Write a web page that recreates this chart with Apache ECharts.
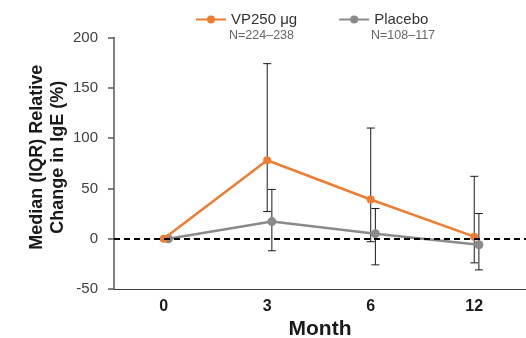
<!DOCTYPE html>
<html>
<head>
<meta charset="utf-8">
<script src="https://cdn.jsdelivr.net/npm/echarts@6/dist/echarts.min.js"></script>
<style>
  html, body { margin: 0; padding: 0; background: #fff; }
  #chart { width: 526px; height: 338px; }
</style>
</head>
<body>
<div id="chart"></div>
<script>
// months shown on the x axis
var months = ['0', '3', '6', '12'];
var yTicks = [-50, 0, 50, 100, 150, 200];

// VP250 ug: median and IQR (%)
var vpMedian = [0, 78, 39, 2];
var vpQ1 = [0, 27, -3, -24];
var vpQ3 = [0, 174, 110, 62];

// Placebo: median and IQR (%)
var plMedian = [0, 17, 5, -6];
var plQ1 = [0, -12, -26, -31];
var plQ3 = [0, 49, 30, 25];

var vpName = 'VP250 \u03bcg';
var plName = 'Placebo';
var vpN = 'N=224\u2013238';
var plN = 'N=108\u2013117';

// small dodge so the two series do not sit on top of each other
var dodge = 0.045;

function pts(vals, shift) {
  return vals.map(function (v, i) { return [i + shift, v]; });
}
function bars(lo, hi, shift) {
  var out = [];
  for (var i = 0; i < lo.length; i++) {
    if (lo[i] !== hi[i]) out.push([i + shift, lo[i], hi[i]]);
  }
  return out;
}

function errorBar(params, api) {
  var x = api.value(0);
  var lo = api.coord([x, api.value(1)]);
  var hi = api.coord([x, api.value(2)]);
  var w = 4;
  var st = { stroke: '#1a1a1a', lineWidth: 1 };
  return {
    type: 'group',
    children: [
      { type: 'line', shape: { x1: lo[0], y1: lo[1], x2: hi[0], y2: hi[1] }, style: st },
      { type: 'line', shape: { x1: lo[0] - w, y1: lo[1], x2: lo[0] + w, y2: lo[1] }, style: st },
      { type: 'line', shape: { x1: hi[0] - w, y1: hi[1], x2: hi[0] + w, y2: hi[1] }, style: st }
    ]
  };
}

var chart = echarts.init(document.getElementById('chart'));
var option = {
  animation: false,
  textStyle: { fontFamily: 'Liberation Sans' },
  grid: { left: 114, right: 0, top: 37.5, bottom: 49, outerBoundsMode: 'none' },
  legend: {
    left: 195,
    top: 12,
    padding: 0,
    itemWidth: 30,
    itemHeight: 10,
    itemGap: 41,
    textStyle: { fontSize: 15, color: '#333' },
    data: [vpName, plName]
  },
  graphic: [
    { type: 'text', left: 229, top: 29, style: { text: vpN, fontSize: 12.5, fill: '#666', fontFamily: 'Liberation Sans' } },
    { type: 'text', left: 371, top: 29, style: { text: plN, fontSize: 12.5, fill: '#666', fontFamily: 'Liberation Sans' } }
  ],
  xAxis: {
    type: 'value',
    min: -0.48,
    max: 3.5,
    name: 'Month',
    nameLocation: 'middle',
    nameGap: 30,
    nameMoveOverlap: false,
    nameTextStyle: { fontSize: 21, fontWeight: 'bold', color: '#1a1a1a' },
    axisLine: { onZero: false, lineStyle: { color: '#404040', width: 1 } },
    axisTick: { show: false },
    splitLine: { show: false },
    axisLabel: {
      customValues: [0, 1, 2, 3],
      formatter: function (v) { return months[Math.round(v)]; },
      fontSize: 16,
      fontWeight: 'bold',
      color: '#1a1a1a',
      margin: 10
    }
  },
  yAxis: {
    type: 'value',
    min: yTicks[0],
    max: yTicks[yTicks.length - 1],
    interval: 50,
    name: 'Median (IQR) Relative\nChange in IgE (%)',
    nameLocation: 'middle',
    nameGap: 45,
    nameMoveOverlap: false,
    nameTextStyle: {
      fontSize: 18, fontWeight: 'bold', color: '#1a1a1a', lineHeight: 21,
      padding: [0, 0, 0, 12]
    },
    axisLine: { show: true, onZero: false, lineStyle: { color: '#595959', width: 1.5 } },
    axisTick: { show: true, length: 6, lineStyle: { color: '#595959', width: 1.5 } },
    splitLine: { show: false },
    axisLabel: { fontSize: 15, color: '#404040', margin: 16 }
  },
  series: [
    {
      type: 'custom',
      renderItem: errorBar,
      data: bars(vpQ1, vpQ3, 0),
      encode: { x: 0, y: [1, 2] },
      z: 1,
      silent: true
    },
    {
      type: 'custom',
      renderItem: errorBar,
      data: bars(plQ1, plQ3, dodge),
      encode: { x: 0, y: [1, 2] },
      z: 1,
      silent: true
    },
    {
      name: plName,
      type: 'line',
      data: pts(plMedian, dodge),
      symbol: 'circle',
      symbolSize: 9,
      itemStyle: { color: '#8a8a8a' },
      lineStyle: { color: '#8a8a8a', width: 2.5 },
      z: 3
    },
    {
      name: vpName,
      type: 'line',
      data: pts(vpMedian, 0),
      symbol: 'circle',
      symbolSize: 8,
      itemStyle: { color: '#ed7d31' },
      lineStyle: { color: '#ed7d31', width: 2.5 },
      z: 4,
      markLine: {
        silent: true,
        symbol: 'none',
        label: { show: false },
        lineStyle: { color: '#000', type: [6, 4], width: 2 },
        data: [{ yAxis: 0 }]
      }
    }
  ]
};
chart.setOption(option);
</script>
</body>
</html>
